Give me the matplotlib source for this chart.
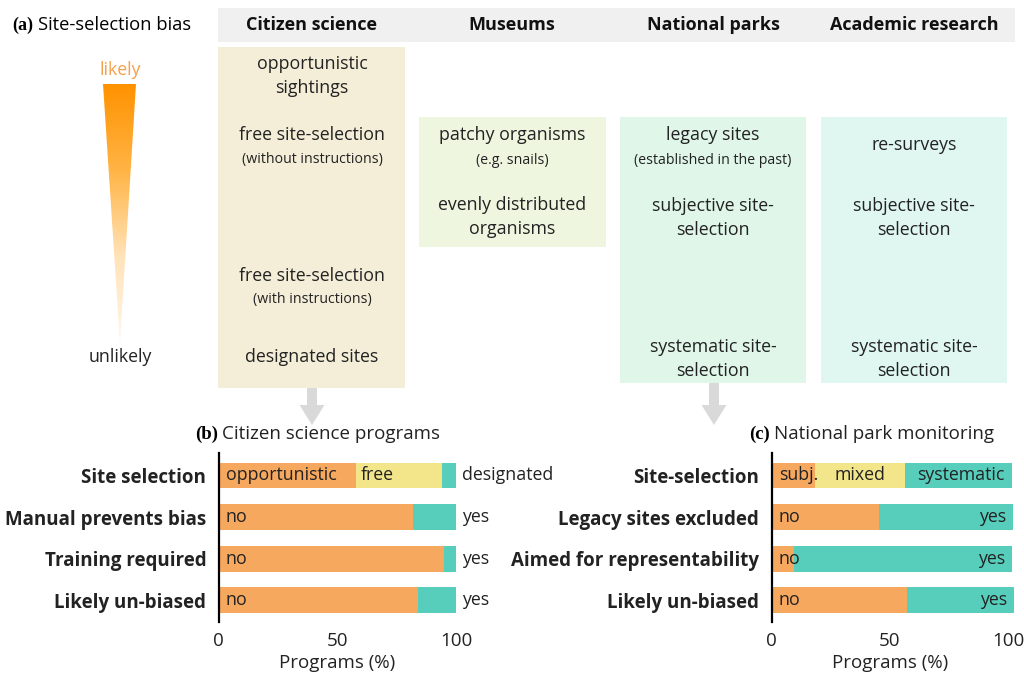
import numpy as np
import matplotlib
matplotlib.use("Agg")
import matplotlib.pyplot as plt
from matplotlib import patches
from matplotlib.colors import LinearSegmentedColormap

plt.rcParams['font.family'] = ['Open Sans', 'DejaVu Sans']

# (a) columns and their text
columns = ['Citizen science', 'Museums', 'National parks', 'Academic research']

# (b) citizen science programs (%)
cs_rows = ['Site selection', 'Manual prevents bias', 'Training required', 'Likely un-biased']
cs_first = [58, 82, 95, 84]
cs_mid = [36, 0, 0, 0]
cs_last = [6, 18, 5, 16]
cs_first_lbl = ['opportunistic', 'no', 'no', 'no']
cs_mid_lbl = ['free', '', '', '']
cs_last_lbl = ['designated', 'yes', 'yes', 'yes']

# (c) national park monitoring (%), rounded shares sum a bit over 100
np_rows = ['Site-selection', 'Legacy sites excluded', 'Aimed for representability', 'Likely un-biased']
np_first = [18.3, 45.5, 9.6, 57.3]
np_mid = [38.1, 0, 0, 0]
np_last = [45.2, 56.6, 92.0, 45.2]
np_first_lbl = ['subj.', 'no', 'no', 'no']
np_mid_lbl = ['mixed', '', '', '']
np_last_lbl = ['systematic', 'yes', 'yes', 'yes']

ORANGE = '#f5a85e'
YELLOW = '#f3e68a'
TEAL = '#57cdbc'
INK = '#222222'

W, H = 1024, 675
fig = plt.figure(figsize=(W / 100, H / 100), dpi=100)
ax = fig.add_axes([0, 0, 1, 1])
ax.set_xlim(0, W)
ax.set_ylim(H, 0)
ax.axis('off')

# header band
ax.add_patch(patches.Rectangle((218, 8), 797, 34, color='#f0f0f0', lw=0))
for cx, name in zip([312, 512, 713, 914], columns):
    ax.text(cx, 25, name, ha='center', va='center', fontsize=13, fontweight='bold', color='#111111')
ax.text(12, 25, '(a)', ha='left', va='center', fontsize=13, fontweight='bold', family='Liberation Serif')
ax.text(38, 25, 'Site-selection bias', ha='left', va='center', fontsize=13.2)

# column boxes
ax.add_patch(patches.Rectangle((218, 47), 187, 341, color='#f4eed8', lw=0))
ax.add_patch(patches.Rectangle((419, 117), 187, 130, color='#eef6e0', lw=0))
ax.add_patch(patches.Rectangle((620, 117), 186, 266, color='#dff6e9', lw=0))
ax.add_patch(patches.Rectangle((821, 117), 186, 266, color='#dff6f1', lw=0))

big = 12.8
small = 10.2
def item(x, y, s, size=big):
    ax.text(x, y, s, ha='center', va='center', fontsize=size, color=INK, linespacing=1.45)

item(312, 76, 'opportunistic\nsightings')
item(312, 135, 'free site-selection')
item(312, 160, '(without instructions)', small)
item(312, 276, 'free site-selection')
item(312, 300, '(with instructions)', small)
item(312, 357, 'designated sites')

item(512, 135, 'patchy organisms')
item(512, 160, '(e.g. snails)', small)
item(512, 217, 'evenly distributed\norganisms')

item(713, 135, 'legacy sites')
item(713, 160, '(established in the past)', small)
item(713, 218, 'subjective site-\nselection')
item(713, 359, 'systematic site-\nselection')

item(914, 145, 're-surveys')
item(914, 218, 'subjective site-\nselection')
item(914, 359, 'systematic site-\nselection')

# gradient wedge
cmap = LinearSegmentedColormap.from_list('bias', ['#ff9200', '#ffb445', '#ffe3b8', '#fff6ea'])
grad = np.linspace(0, 1, 256).reshape(-1, 1)
im = ax.imshow(grad, cmap=cmap, extent=(103, 136, 343, 84), aspect='auto', zorder=2)
wedge = patches.Polygon([(103, 84), (136, 84), (120, 343)], closed=True, transform=ax.transData)
im.set_clip_path(wedge)
ax.set_xlim(0, W)
ax.set_ylim(H, 0)
ax.text(120, 70, 'likely', ha='center', va='center', fontsize=12.8, color='#f5a04a')
ax.text(120, 357, 'unlikely', ha='center', va='center', fontsize=12.8, color=INK)

# arrows
for x0, y0 in [(312, 388), (714, 383)]:
    ax.add_patch(patches.FancyArrow(x0, y0, 0, 425 - y0, width=10, head_width=25, head_length=20,
                                    length_includes_head=True, color='#d9d9d9', lw=0))


def bar_panel(rect, xmax, rows, first, mid, last, l1, l2, l3, inside_last, tag, title, title_x):
    bx = fig.add_axes(rect)
    y = np.arange(len(rows))
    bx.barh(y, first, height=0.62, color=ORANGE, lw=0)
    bx.barh(y, mid, left=first, height=0.62, color=YELLOW, lw=0)
    left2 = np.array(first) + np.array(mid)
    bx.barh(y, last, left=left2, height=0.62, color=TEAL, lw=0)
    bx.set_xlim(0, xmax)
    bx.set_ylim(3.52, -0.54)
    bx.set_yticks(y)
    bx.set_yticklabels(rows, fontsize=12.2, fontweight='bold', color='#111111')
    bx.set_xticks([0, 50, 100])
    bx.tick_params(length=0, labelsize=13.5, pad=7, labelcolor=INK)
    bx.tick_params(axis='y', pad=9)
    for s in ['top', 'right', 'bottom']:
        bx.spines[s].set_visible(False)
    bx.spines['left'].set_linewidth(1.6)
    bx.set_xlabel('Programs (%)', fontsize=13.5, labelpad=2, color=INK)
    bx.xaxis.set_label_coords(50 / xmax, -0.19)
    bx.patch.set_alpha(0)
    tot = left2 + np.array(last)
    for i in range(len(rows)):
        bx.text(3, i, l1[i], ha='left', va='center', fontsize=12.8, color=INK)
        if l2[i]:
            if inside_last:
                bx.text(first[i] + mid[i] / 2, i, l2[i], ha='center', va='center', fontsize=12.8, color=INK)
            else:
                bx.text(first[i] + 2, i, l2[i], ha='left', va='center', fontsize=12.8, color=INK)
        if inside_last:
            bx.text(tot[i] - 3, i, l3[i], ha='right', va='center', fontsize=12.8, color=INK)
        else:
            bx.text(102.5, i, l3[i], ha='left', va='center', fontsize=12.8, color=INK)
    ax.text(title_x, 434, tag, ha='right', va='center', fontsize=13.5, fontweight='bold', family='Liberation Serif')
    ax.text(title_x + 4, 434, title, ha='left', va='center', fontsize=13.5, color=INK)
    return bx


bar_panel([218.7 / W, 1 - 622 / H, 237.3 / W, 169 / H], 100, cs_rows, cs_first, cs_mid, cs_last,
          cs_first_lbl, cs_mid_lbl, cs_last_lbl, False, '(b)', 'Citizen science programs', 218)
bar_panel([771.7 / W, 1 - 622 / H, 243.4 / W, 169 / H], 103, np_rows, np_first, np_mid, np_last,
          np_first_lbl, np_mid_lbl, np_last_lbl, True, '(c)', 'National park monitoring', 770)

fig.savefig('out.png', dpi=100)
